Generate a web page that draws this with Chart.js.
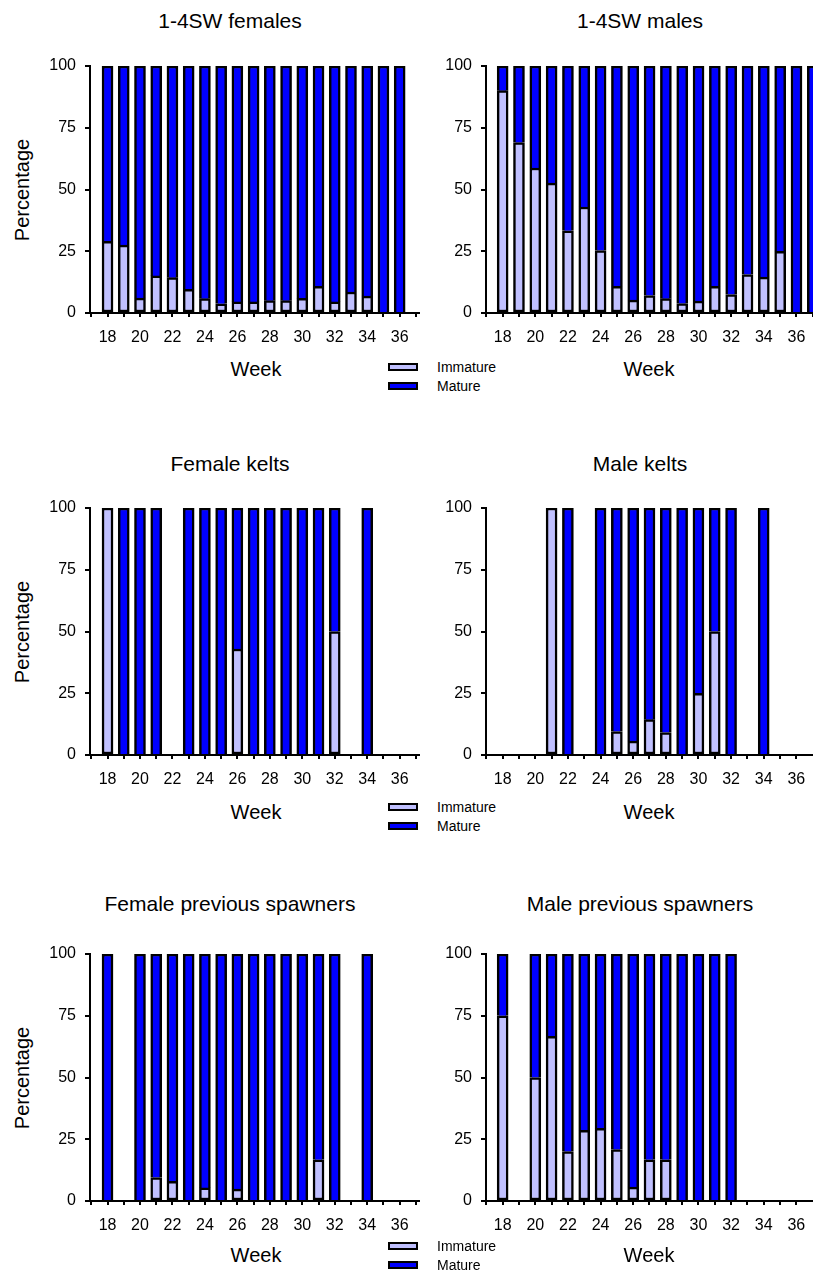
<!DOCTYPE html>
<html>
<head>
<meta charset="utf-8">
<script src="https://cdn.jsdelivr.net/npm/chart.js@4"></script>
<style>
  html, body { margin: 0; padding: 0; background: #fff; overflow: hidden; }
  body { width: 813px; height: 1283px; position: relative; font-family: "Liberation Sans", Arial, sans-serif; color: #000; }
  .cv { position: absolute; }
  .txt { position: absolute; white-space: nowrap; transform: translate(-50%, -50%); line-height: 1; }
  .title { font-size: 21px; }
  .xlab { font-size: 20px; }
  .ylab { font-size: 20px; transform: translate(-50%, -50%) rotate(-90deg); }
  .legend { position: absolute; font-size: 14px; line-height: 1; }
  .legend .row { display: flex; align-items: center; height: 19px; }
  .legend .sw { width: 26px; height: 4px; border: 2.5px solid #000; margin-right: 19px; }
</style>
</head>
<body>
<script>
// Weeks on the x axis and the two maturity classes
const weeks = [18, 19, 20, 21, 22, 23, 24, 25, 26, 27, 28, 29, 30, 31, 32, 33, 34, 35, 36, 37];
const seriesNames = ["Immature", "Mature"];
const seriesColors = ["#c0c0ff", "#0000ff"];
const yTicks = [0, 25, 50, 75, 100];

// Percentage immature / mature per week (null = no sample that week)
const sw14FemalesImmature = [29, 27.5, 6, 15, 14.3, 9.6, 5.8, 3.7, 4.5, 4.5, 5, 5, 5.9, 10.8, 4.5, 8.5, 6.8, 0, 0, null];
const sw14FemalesMature   = [71, 72.5, 94, 85, 85.7, 90.4, 94.2, 96.3, 95.5, 95.5, 95, 95, 94.1, 89.2, 95.5, 91.5, 93.2, 100, 100, null];

const sw14MalesImmature = [90, 69, 58.7, 52.6, 33.3, 42.9, 25.3, 10.8, 5.2, 7.1, 5.8, 3.8, 4.8, 10.8, 7.5, 15.6, 14.5, 25, 0, 0];
const sw14MalesMature   = [10, 31, 41.3, 47.4, 66.7, 57.1, 74.7, 89.2, 94.8, 92.9, 94.2, 96.2, 95.2, 89.2, 92.5, 84.4, 85.5, 75, 100, 100];

const femaleKeltsImmature = [100, 0, 0, 0, null, 0, 0, 0, 42.9, 0, 0, 0, 0, 0, 50, null, 0, null, null, null];
const femaleKeltsMature   = [0, 100, 100, 100, null, 100, 100, 100, 57.1, 100, 100, 100, 100, 100, 50, null, 100, null, null, null];

const maleKeltsImmature = [null, null, null, 100, 0, null, 0, 9.5, 5.6, 14.3, 9.1, 0, 25, 50, 0, null, 0, null, null, null];
const maleKeltsMature   = [null, null, null, 0, 100, null, 100, 90.5, 94.4, 85.7, 90.9, 100, 75, 50, 100, null, 100, null, null, null];

const femalePrevImmature = [0, null, 0, 9.5, 8, 0, 5.3, 0, 4.8, 0, 0, 0, 0, 16.7, 0, null, 0, null, null, null];
const femalePrevMature   = [100, null, 100, 90.5, 92, 100, 94.7, 100, 95.2, 100, 100, 100, 100, 83.3, 100, null, 100, null, null, null];

const malePrevImmature = [75, null, 50, 66.7, 20, 28.6, 29.4, 20.8, 5.6, 16.7, 16.7, 0, 0, 0, 0, null, null, null, null, null];
const malePrevMature   = [25, null, 50, 33.3, 80, 71.4, 70.6, 79.2, 94.4, 83.3, 83.3, 100, 100, 100, 100, null, null, null, null, null];

Chart.defaults.font.family = '"Liberation Sans", Arial, sans-serif';
Chart.defaults.font.size = 16;
Chart.defaults.color = '#000';

const PAD_TOP = 16, X_AXIS_H = 40, Y_AXIS_W = 50, PLOT_H = 247;

// Each panel: title, data, canvas placement and visible week range
const panels = [
  { title: "1-4SW females", imm: sw14FemalesImmature, mat: sw14FemalesMature, left: 40, top: 50, width: 385, padR: 6, xmin: 16.92, xmax: 37.19, yLabel: true },
  { title: "1-4SW males", imm: sw14MalesImmature, mat: sw14MalesMature, left: 436, top: 50, width: 420, padR: 4, xmin: 16.98, xmax: 39.4, yLabel: false },
  { title: "Female kelts", imm: femaleKeltsImmature, mat: femaleKeltsMature, left: 40, top: 492, width: 385, padR: 6, xmin: 16.92, xmax: 37.19, yLabel: true },
  { title: "Male kelts", imm: maleKeltsImmature, mat: maleKeltsMature, left: 436, top: 492, width: 380, padR: 4, xmin: 16.98, xmax: 36.96, yLabel: false },
  { title: "Female previous spawners", imm: femalePrevImmature, mat: femalePrevMature, left: 40, top: 938, width: 385, padR: 6, xmin: 16.92, xmax: 37.19, yLabel: true },
  { title: "Male previous spawners", imm: malePrevImmature, mat: malePrevMature, left: 436, top: 938, width: 380, padR: 4, xmin: 16.98, xmax: 36.96, yLabel: false }
];

// Text rows (page y positions) for each row of panels
const rowText = [
  { title: 20, week: 369, legend: 357 },
  { title: 463, week: 812, legend: 797 },
  { title: 903, week: 1255, legend: 1236 }
];

function addText(cls, text, x, y) {
  const d = document.createElement('div');
  d.className = 'txt ' + cls;
  d.textContent = text;
  d.style.left = x + 'px';
  d.style.top = y + 'px';
  document.body.appendChild(d);
}

function addLegend(x, y) {
  const lg = document.createElement('div');
  lg.className = 'legend';
  lg.style.left = x + 'px';
  lg.style.top = y + 'px';
  seriesNames.forEach((name, i) => {
    const row = document.createElement('div');
    row.className = 'row';
    const sw = document.createElement('div');
    sw.className = 'sw';
    sw.style.background = seriesColors[i];
    const t = document.createElement('span');
    t.textContent = name;
    row.appendChild(sw);
    row.appendChild(t);
    lg.appendChild(row);
  });
  document.body.appendChild(lg);
}

const toPoints = arr => weeks.map((w, i) => ({ x: w, y: arr[i] }));

panels.forEach((p, idx) => {
  const canvas = document.createElement('canvas');
  canvas.className = 'cv';
  const h = PAD_TOP + PLOT_H + X_AXIS_H;
  canvas.style.left = p.left + 'px';
  canvas.style.top = p.top + 'px';
  canvas.style.width = p.width + 'px';
  canvas.style.height = h + 'px';
  canvas.width = p.width;
  canvas.height = h;
  document.body.appendChild(canvas);

  const row = rowText[Math.floor(idx / 2)];

  // Panel title, x axis title and (left column) y axis title
  addText('title', p.title, idx % 2 === 0 ? 230 : 640, row.title);
  addText('xlab', 'Week', idx % 2 === 0 ? 256 : 649, row.week);
  if (p.yLabel) addText('ylab', 'Percentage', 22, p.top + PAD_TOP + PLOT_H / 2);
  if (idx % 2 === 0) addLegend(388, row.legend);

  new Chart(canvas, {
    type: 'bar',
    data: {
      datasets: [
        {
          label: seriesNames[0],
          data: toPoints(p.imm),
          backgroundColor: seriesColors[0],
          borderColor: '#000',
          borderWidth: 2.5,
          borderSkipped: false,
          barThickness: 11
        },
        {
          label: seriesNames[1],
          data: toPoints(p.mat),
          backgroundColor: seriesColors[1],
          borderColor: '#000',
          borderWidth: 2.5,
          borderSkipped: 'start',
          barThickness: 11
        }
      ]
    },
    options: {
      responsive: false,
      animation: false,
      devicePixelRatio: 1,
      layout: { padding: { top: PAD_TOP, right: p.padR, left: 0, bottom: 0 } },
      plugins: { legend: { display: false }, tooltip: { enabled: false }, title: { display: false } },
      scales: {
        x: {
          type: 'linear',
          stacked: true,
          offset: false,
          min: p.xmin,
          max: p.xmax,
          border: { display: true, color: '#000', width: 2 },
          grid: { display: true, offset: false, drawOnChartArea: false, drawTicks: true, tickLength: 4, color: '#000', lineWidth: 2 },
          ticks: {
            stepSize: 1,
            includeBounds: false,
            autoSkip: false,
            maxRotation: 0,
            padding: 11,
            font: { size: 16 },
            callback: v => (Number.isInteger(v) && v % 2 === 0 && v >= 18 && v <= 36) ? String(v) : ''
          },
          afterFit: s => { s.height = X_AXIS_H; s.paddingLeft = 0; s.paddingRight = 0; }
        },
        y: {
          stacked: true,
          min: 0,
          max: 100,
          border: { display: true, color: '#000', width: 2 },
          grid: { display: true, drawOnChartArea: false, drawTicks: true, tickLength: 5, color: '#000', lineWidth: 2 },
          afterBuildTicks: s => { s.ticks = yTicks.map(v => ({ value: v })); },
          ticks: { padding: 9, font: { size: 16 } },
          afterFit: s => { s.width = Y_AXIS_W; s.paddingTop = 0; s.paddingBottom = 0; }
        }
      }
    }
  });
});
</script>
</body>
</html>
